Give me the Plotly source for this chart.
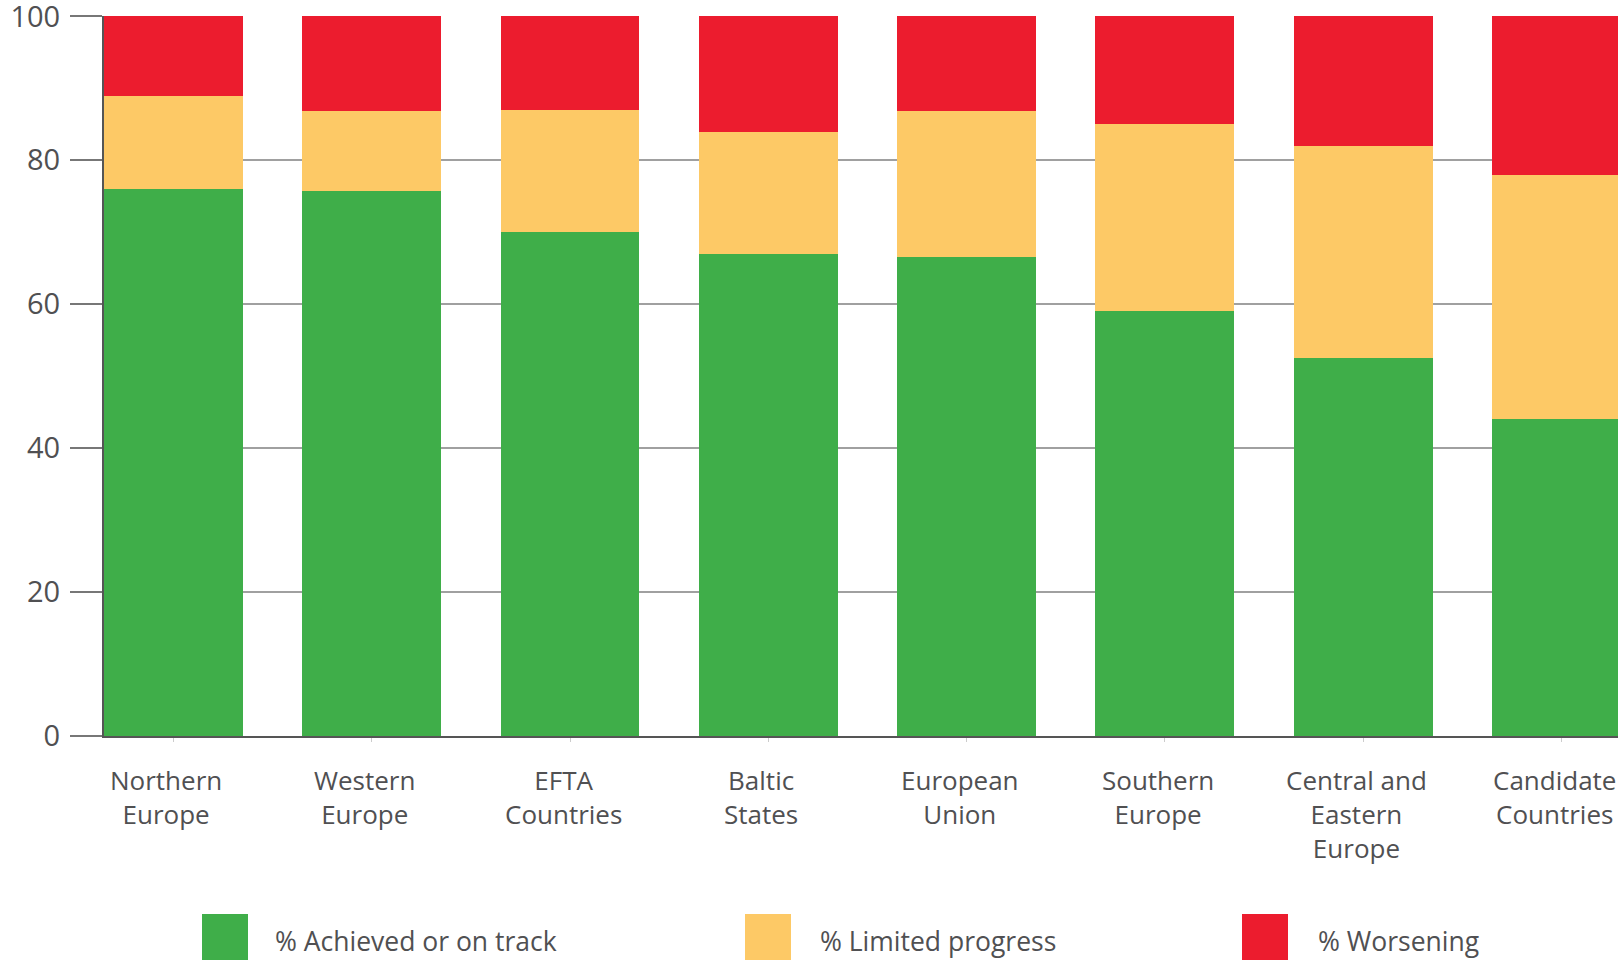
import plotly.graph_objects as go

categories = ["Northern<br>Europe", "Western<br>Europe", "EFTA<br>Countries", "Baltic<br>States",
              "European<br>Union", "Southern<br>Europe", "Central and<br>Eastern<br>Europe",
              "Candidate<br>Countries"]
series_names = ["% Achieved or on track", "% Limited progress", "% Worsening"]
achieved = [76, 75.8, 70, 67, 66.6, 59, 52.5, 44]
limited = [13, 11, 17, 17, 20.2, 26, 29.5, 34]
worsening = [11, 13.2, 13, 16, 13.2, 15, 18, 22]
y_ticks = [0, 20, 40, 60, 80, 100]

colors = ["#3FAE49", "#FDC966", "#EC1C2E"]
text_color = "#505052"
font_family = "Open Sans"

x_idx = list(range(len(categories)))

fig = go.Figure()
for name, vals, col in zip(series_names, [achieved, limited, worsening], colors):
    fig.add_trace(go.Bar(x=x_idx, y=vals, name=name, marker=dict(color=col, line=dict(width=0)),
                         showlegend=False))

L = 104
fig.update_layout(
    width=1618, height=962,
    margin=dict(l=L, r=0, t=16, b=226, autoexpand=False),
    barmode="stack", bargap=0.3,
    plot_bgcolor="white", paper_bgcolor="white",
    font=dict(family=font_family, color=text_color, size=26),
)
fig.update_xaxes(
    range=[-0.35, 7.285], tickmode="array", tickvals=x_idx, ticktext=[""] * len(x_idx),
    showline=True, linecolor="#555555", linewidth=2,
    ticks="outside", ticklen=4, tickcolor="#cccccc", tickwidth=1,
    showgrid=False, zeroline=False, automargin=False,
)
fig.update_yaxes(
    range=[0, 100.05], tickmode="array", tickvals=y_ticks,
    showline=True, linecolor="#555555", linewidth=2,
    ticks="outside", ticklen=32, tickcolor="#777777", tickwidth=2,
    showgrid=True, gridcolor="#a0a0a0", gridwidth=2, zeroline=False,
    ticklabelstandoff=4, ticklabeloverflow="allow", automargin=False,
    tickfont=dict(size=29, color=text_color),
)

W = 1618.0 - L
H = 720.0
def px(p):
    return (p - L) / W
def py(p):
    return (736 - p) / H

# Category labels (slightly left of bar centres, as in the source)
for i, lab in zip(x_idx, categories):
    fig.add_annotation(xref="x", yref="paper", x=i - 0.035, y=py(760),
                       xanchor="center", yanchor="top", text=lab, showarrow=False,
                       font=dict(size=26, color=text_color, family=font_family))

# Legend drawn as boxes + labels below the plot
box_lefts = [202, 745, 1242]
text_lefts = [273, 818, 1316]
for name, col, bl, tl in zip(series_names, colors, box_lefts, text_lefts):
    fig.add_shape(type="rect", xref="paper", yref="paper",
                  x0=px(bl), x1=px(bl + 46), y0=py(960), y1=py(914),
                  fillcolor=col, line=dict(width=0))
    fig.add_annotation(xref="paper", yref="paper", x=px(tl), y=py(941),
                       xanchor="left", yanchor="middle", text=name, showarrow=False,
                       font=dict(size=26.5, color=text_color, family=font_family))

fig.write_html("out.html", config={"displayModeBar": False},
               post_script="document.body.style.margin='0px';document.body.style.overflow='hidden';")
